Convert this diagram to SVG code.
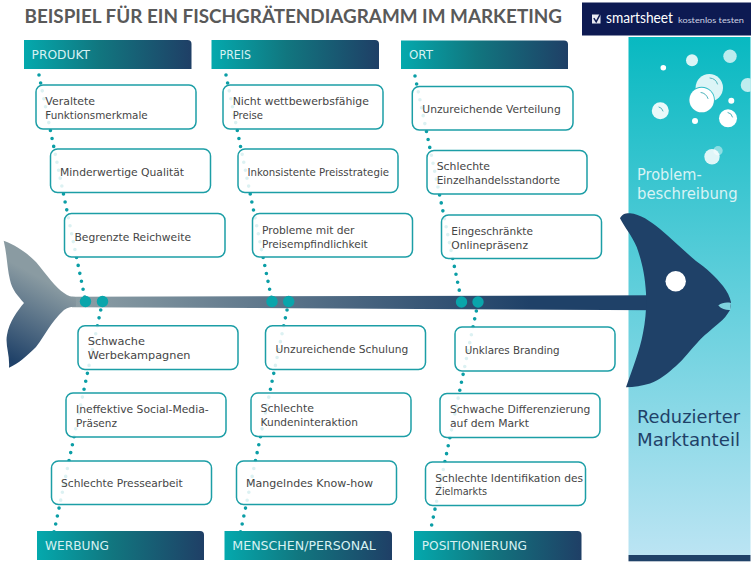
<svg xmlns="http://www.w3.org/2000/svg" width="752" height="564" viewBox="0 0 752 564">
<style>
text{font-family:"DejaVu Sans","Liberation Sans",sans-serif}
.t{font-size:10.6px;fill:#454545}
.h{font-size:12.6px;fill:#d6f1f2}
.b{fill:#fff;fill-opacity:.86;stroke:#1c9ea6;stroke-width:1.5}
.d{stroke:#0b9ea6;stroke-width:3.6;stroke-linecap:round;stroke-dasharray:0 8.1;fill:none}
.c{fill:#0aa5ab}
.hb{fill:url(#hg)}
.bub{fill:#fff}
.arc{fill:none;stroke:#4fb4bc;stroke-width:1;stroke-linecap:round}
</style>
<defs>
<linearGradient id="hg" x1="0" y1="0" x2="1" y2="0"><stop offset="0" stop-color="#04a9ad"/><stop offset=".45" stop-color="#11767f"/><stop offset="1" stop-color="#1f3f66"/></linearGradient>
<linearGradient id="pg" x1="0" y1="0" x2="0" y2="1"><stop offset="0" stop-color="#08b9c1"/><stop offset=".5" stop-color="#62cfdc"/><stop offset="1" stop-color="#bbe4f3"/></linearGradient>
<linearGradient id="sg" gradientUnits="userSpaceOnUse" x1="75" y1="0" x2="530" y2="0"><stop offset="0" stop-color="#8c9ea5"/><stop offset="1" stop-color="#1f4168"/></linearGradient>
<linearGradient id="tg" gradientUnits="userSpaceOnUse" x1="62" y1="272" x2="14" y2="362"><stop offset=".15" stop-color="#8a9ba2"/><stop offset="1" stop-color="#1f4168"/></linearGradient>
<clipPath id="pc"><rect x="628.5" y="37" width="122" height="518"/></clipPath>
</defs>
<rect width="752" height="564" fill="#fff"/>
<text x="24.5" y="23" font-size="18.5" font-weight="700" fill="#595959" style="font-family:Lato,'Liberation Sans',sans-serif" textLength="537.5" lengthAdjust="spacingAndGlyphs">BEISPIEL FÜR EIN FISCHGRÄTENDIAGRAMM IM MARKETING</text>

<g id="logo">
<rect x="582" y="2.5" width="169" height="33" fill="#0d1a52"/>
<path d="M592 14.5h8.5v9h-8.5z" fill="#e8eaf2"/>
<path d="M593.8 18.2l2.4 3.6 4.6-8.6" fill="none" stroke="#0d1a52" stroke-width="1.5"/>
<text x="606" y="23" font-size="14.5" fill="#fff" style="font-family:Lato,sans-serif" textLength="67" lengthAdjust="spacingAndGlyphs">smartsheet</text>
<text x="678" y="22.5" font-size="8.4" fill="#cdd2e2" style="font-family:Lato,sans-serif" textLength="66" lengthAdjust="spacingAndGlyphs">kostenlos testen</text>
</g>

<g id="panel">
<rect x="628.5" y="37" width="122" height="518" fill="url(#pg)"/>
<rect x="628.5" y="555" width="122" height="6.3" fill="#1f4168"/>
<g clip-path="url(#pc)">
<circle class="bub" cx="663.3" cy="67.7" r="2.8"/>
<circle class="bub" cx="692" cy="60.3" r="6" fill-opacity=".85"/>
<circle class="bub" cx="730" cy="56.3" r="6.7" fill-opacity=".72"/>
<circle class="bub" cx="709.3" cy="87.7" r="13.7" fill-opacity=".85"/>
<circle cx="701.7" cy="100" r="13.2" fill="#2dbcc6"/>
<circle class="bub" cx="701.7" cy="100" r="12.3"/>
<circle class="bub" cx="747.7" cy="85" r="7" fill-opacity=".72"/>
<circle class="bub" cx="731.3" cy="100.7" r="3"/>
<circle class="bub" cx="660.3" cy="110.7" r="8.5" fill-opacity=".9"/>
<circle class="bub" cx="728" cy="118.3" r="9"/>
<circle class="bub" cx="695" cy="121" r="3"/>
<circle class="bub" cx="712" cy="156.7" r="7.7" fill-opacity=".85"/>
<circle class="bub" cx="718" cy="150.7" r="4.7" fill-opacity=".45"/>
<path class="arc" d="M710 78q6 .5 7.5 6M701 92.500q5 .5 7 6M659 107q3 .5 4 4M728 112.500q3.500 .5 4.500 4.500"/>
</g>
<text x="637" y="180" font-size="15.4" fill="#d8f3f5" textLength="64.700" lengthAdjust="spacingAndGlyphs">Problem-</text>
<text x="637" y="199.300" font-size="15.4" fill="#d8f3f5" textLength="100.700" lengthAdjust="spacingAndGlyphs">beschreibung</text>
<text x="637" y="422.700" font-size="18.4" fill="#1f4168" textLength="103" lengthAdjust="spacingAndGlyphs">Reduzierter</text>
<text x="637" y="446" font-size="18.4" fill="#1f4168" textLength="103" lengthAdjust="spacingAndGlyphs">Marktanteil</text>
</g>

<g id="connectors">
<line class="d" x1="39" y1="75" x2="85.500" y2="301"/>
<line class="d" x1="226" y1="75" x2="272" y2="301"/>
<line class="d" x1="415" y1="76" x2="461.500" y2="301"/>
<line class="d" x1="102.400" y1="302" x2="54" y2="532"/>
<line class="d" x1="288.700" y1="302" x2="240.500" y2="532"/>
<line class="d" x1="478" y1="303" x2="430" y2="533"/>
</g>

<g id="fish">
<path d="M72 296.800L376 296 655 295.300V310.300L376 308.700 72 307.200z" fill="url(#sg)"/>
<path d="M3.700 240.700C18 246 28 254 36 262C46 274 56 288 64 293C68 296 72 297 76 297V306.500C72 306.500 68 307 64 310C50 323 46 334 36 347C28 355 18 364 9 367.700C10 355 5 345 7 335C9 322 18 310 24 303C18 296 12 290 10 280C7 268 7 254 3.700 240.700z" fill="url(#tg)"/>
<path d="M620 218.300C622 214 626 213 630 213.300C640 214 650 221 660 229C672 239 683 250 696 261C706 268 716 277 723 286C727 291 730 297 731 302.300C731 306 731 308 730 310C727 315 724 319 719 323C710 331 704 335 698 342C690 350 684 359 676 366C668 373 660 380 650 383.500C642 386 634 387 626 387.300C632 370 640 350 643 333C646 318 646.500 305 646 293C645 275 642 262 636.700 247C632 236 625 228 620 218.300z" fill="#1f4168"/>
<circle cx="675.700" cy="281.300" r="10.200" fill="#fff"/>
<path d="M718.300 305.500C722 302.500 727 302 731 303C730.500 306 730.500 307.500 731 310C727 310.500 722 309.500 718.300 305.500z" fill="#7ed3df"/>
<circle class="c" cx="85.500" cy="301.500" r="5.700"/>
<circle class="c" cx="102.500" cy="301.500" r="5.700"/>
<circle class="c" cx="272" cy="301.500" r="5.700"/>
<circle class="c" cx="288.700" cy="301.500" r="5.700"/>
<circle class="c" cx="461.500" cy="302" r="5.700"/>
<circle class="c" cx="478" cy="302" r="5.700"/>
</g>

<g id="cat-produkt"><path class="hb" d="M24 40H187.500Q191.500 40 191.500 44V69H24z"/><text class="h" x="31.500" y="58.700" textLength="58.500" lengthAdjust="spacingAndGlyphs">PRODUKT</text></g>
<g id="cat-preis"><path class="hb" d="M211.500 40H375Q379 40 379 44V69H211.500z"/><text class="h" x="219.500" y="58.700" textLength="31.500" lengthAdjust="spacingAndGlyphs">PREIS</text></g>
<g id="cat-ort"><path class="hb" d="M401 40.500H564Q568 40.500 568 44.500V69H401z"/><text class="h" x="409" y="59" textLength="24" lengthAdjust="spacingAndGlyphs">ORT</text></g>
<g id="cat-werbung"><path class="hb" d="M37 531H200Q204 531 204 535V560H37z"/><text class="h" x="45" y="549.700" textLength="64" lengthAdjust="spacingAndGlyphs">WERBUNG</text></g>
<g id="cat-menschen"><path class="hb" d="M224.500 531H388Q392 531 392 535V560H224.500z"/><text class="h" x="232.300" y="549.700" textLength="143.500" lengthAdjust="spacingAndGlyphs">MENSCHEN/PERSONAL</text></g>
<g id="cat-positionierung"><path class="hb" d="M414 531H577.500Q581.500 531 581.500 535V560H414z"/><text class="h" x="421.700" y="550" textLength="105.300" lengthAdjust="spacingAndGlyphs">POSITIONIERUNG</text></g>

<g id="n1"><rect class="b" x="36" y="85" width="160" height="44" rx="7"/><text class="t" x="45.300" y="104.500" textLength="49.700" lengthAdjust="spacingAndGlyphs">Veraltete</text><text class="t" x="45.300" y="118.500" textLength="102.400" lengthAdjust="spacingAndGlyphs">Funktionsmerkmale</text></g>
<g id="n2"><rect class="b" x="50.500" y="149" width="160" height="43.500" rx="7"/><text class="t" x="60" y="175.500" textLength="124" lengthAdjust="spacingAndGlyphs">Minderwertige Qualität</text></g>
<g id="n3"><rect class="b" x="64.500" y="213.500" width="160.500" height="43.500" rx="7"/><text class="t" x="74.500" y="240.500" textLength="116.500" lengthAdjust="spacingAndGlyphs">Begrenzte Reichweite</text></g>
<g id="n4"><rect class="b" x="223" y="85" width="160" height="44" rx="7"/><text class="t" x="232.700" y="104.500" textLength="136.300" lengthAdjust="spacingAndGlyphs">Nicht wettbewerbsfähige</text><text class="t" x="232.700" y="118.500" textLength="30.300" lengthAdjust="spacingAndGlyphs">Preise</text></g>
<g id="n5"><rect class="b" x="238" y="149" width="160" height="43.500" rx="7"/><text class="t" x="247.500" y="175.500" textLength="141.500" lengthAdjust="spacingAndGlyphs">Inkonsistente Preisstrategie</text></g>
<g id="n6"><rect class="b" x="252.500" y="213.500" width="160" height="43.500" rx="7"/><text class="t" x="262" y="233.500" textLength="92.500" lengthAdjust="spacingAndGlyphs">Probleme mit der</text><text class="t" x="262" y="247.500" textLength="105.700" lengthAdjust="spacingAndGlyphs">Preisempfindlichkeit</text></g>
<g id="n7"><rect class="b" x="412.300" y="86.500" width="160.700" height="43.500" rx="7"/><text class="t" x="422.300" y="113.300" textLength="138.400" lengthAdjust="spacingAndGlyphs">Unzureichende Verteilung</text></g>
<g id="n8"><rect class="b" x="427" y="150.500" width="160" height="43.500" rx="7"/><text class="t" x="436.700" y="170" textLength="53.300" lengthAdjust="spacingAndGlyphs">Schlechte</text><text class="t" x="436.700" y="184" textLength="123.300" lengthAdjust="spacingAndGlyphs">Einzelhandelsstandorte</text></g>
<g id="n9"><rect class="b" x="441.500" y="215" width="160" height="43.500" rx="7"/><text class="t" x="451.300" y="234.700" textLength="81.700" lengthAdjust="spacingAndGlyphs">Eingeschränkte</text><text class="t" x="451.300" y="248.500" textLength="76.700" lengthAdjust="spacingAndGlyphs">Onlinepräsenz</text></g>
<g id="n10"><rect class="b" x="78" y="325.700" width="160" height="43.800" rx="7"/><text class="t" x="87.700" y="345.300" textLength="57.300" lengthAdjust="spacingAndGlyphs">Schwache</text><text class="t" x="87.700" y="359.300" textLength="102.800" lengthAdjust="spacingAndGlyphs">Werbekampagnen</text></g>
<g id="n11"><rect class="b" x="66" y="393" width="160" height="44" rx="7"/><text class="t" x="76" y="413" textLength="132.700" lengthAdjust="spacingAndGlyphs">Ineffektive Social-Media-</text><text class="t" x="76" y="426.700" textLength="41" lengthAdjust="spacingAndGlyphs">Präsenz</text></g>
<g id="n12"><rect class="b" x="51.500" y="461" width="160" height="43.500" rx="7"/><text class="t" x="61" y="487.300" textLength="121.700" lengthAdjust="spacingAndGlyphs">Schlechte Pressearbeit</text></g>
<g id="n13"><rect class="b" x="265.500" y="325.700" width="160" height="43.800" rx="7"/><text class="t" x="275.500" y="352.700" textLength="132.800" lengthAdjust="spacingAndGlyphs">Unzureichende Schulung</text></g>
<g id="n14"><rect class="b" x="251" y="393" width="160" height="43.500" rx="7"/><text class="t" x="260.500" y="412" textLength="53.500" lengthAdjust="spacingAndGlyphs">Schlechte</text><text class="t" x="260.500" y="425.700" textLength="97.500" lengthAdjust="spacingAndGlyphs">Kundeninteraktion</text></g>
<g id="n15"><rect class="b" x="236.500" y="461" width="160" height="43.500" rx="7"/><text class="t" x="246" y="487.300" textLength="127" lengthAdjust="spacingAndGlyphs">Mangelndes Know-how</text></g>
<g id="n16"><rect class="b" x="455" y="327" width="160" height="44" rx="7"/><text class="t" x="464.700" y="354" textLength="95" lengthAdjust="spacingAndGlyphs">Unklares Branding</text></g>
<g id="n17"><rect class="b" x="440" y="393.500" width="160" height="44" rx="7"/><text class="t" x="450" y="413.300" textLength="140.300" lengthAdjust="spacingAndGlyphs">Schwache Differenzierung</text><text class="t" x="450" y="427" textLength="79" lengthAdjust="spacingAndGlyphs">auf dem Markt</text></g>
<g id="n18"><rect class="b" x="425.500" y="462" width="160" height="43.500" rx="7"/><text class="t" x="435.300" y="482" textLength="147.700" lengthAdjust="spacingAndGlyphs">Schlechte Identifikation des</text><text class="t" x="435.300" y="495.300" textLength="51.700" lengthAdjust="spacingAndGlyphs">Zielmarkts</text></g>
</svg>
